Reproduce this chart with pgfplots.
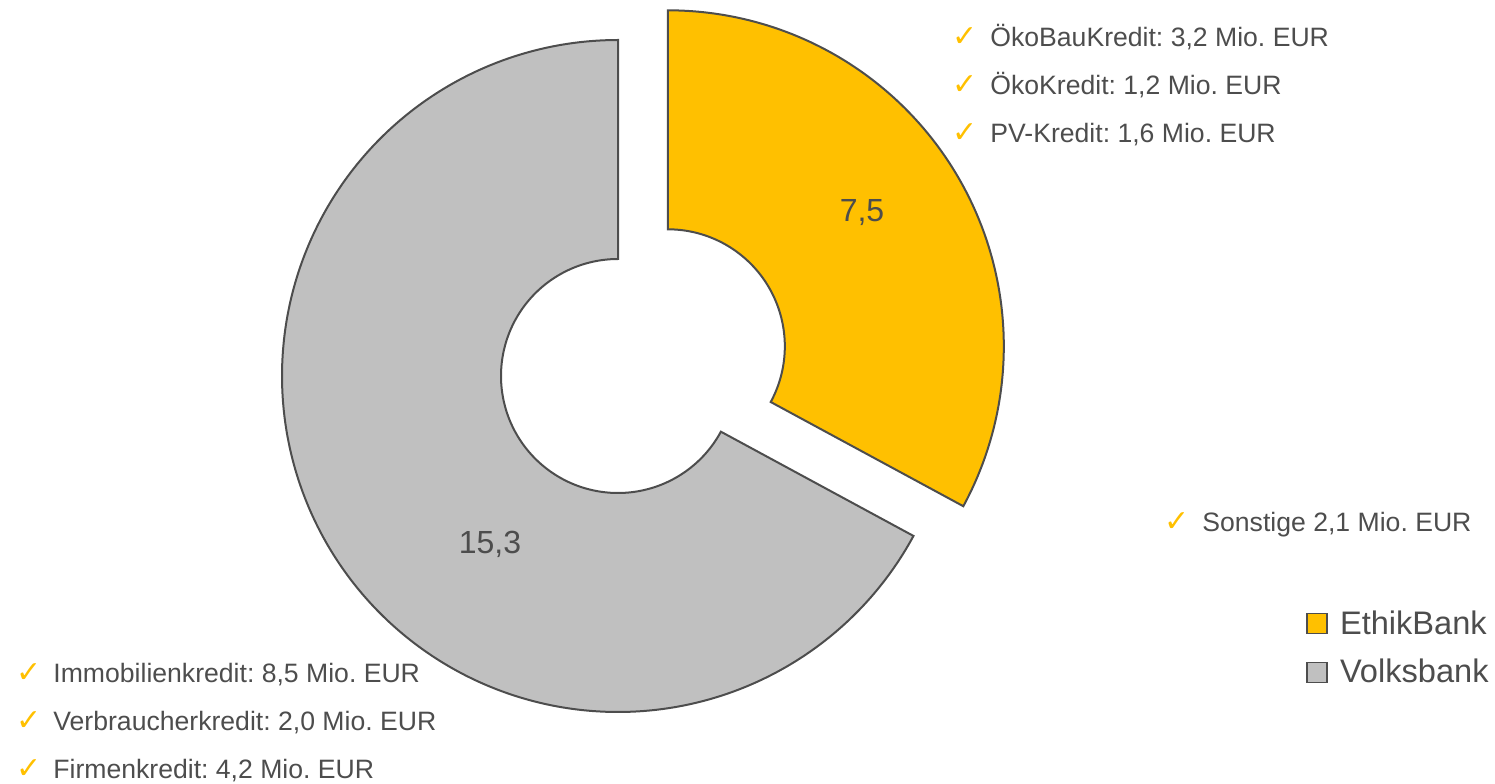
\documentclass[border=0pt]{standalone}
\usepackage{pgfplots}
\pgfplotsset{compat=1.18}
\usepgfplotslibrary{fillbetween}
\usepackage{fontspec}
\setmainfont{Liberation Sans}
\newfontfamily\djv{DejaVu Sans}
\definecolor{ethik}{HTML}{FFC000}
\definecolor{volks}{HTML}{C0C0C0}
\definecolor{edgec}{HTML}{4D4D4D}
\definecolor{txt}{HTML}{4D4D4D}
\newcommand{\chk}{{\djv\fontsize{15}{15}\selectfont\color{ethik}✓}}
\frenchspacing

\begin{document}
\begin{tikzpicture}
\pgfmathsetmacro{\va}{7.5}
\pgfmathsetmacro{\vb}{15.3}
\pgfmathsetmacro{\splitang}{90-360*\va/(\va+\vb)}
\pgfmathsetmacro{\midang}{90-180*\va/(\va+\vb)}
\def\cx{618}\def\cy{376}\def\Ro{336}\def\Ri{117}
\pgfmathsetmacro{\ex}{\cx+58*cos(\midang)}
\pgfmathsetmacro{\ey}{\cy-58*sin(\midang)}
\begin{axis}[
 scale only axis, width=747.5pt, height=391.5pt,
 xmin=0, xmax=1495, ymin=0, ymax=783, y dir=reverse,
 hide axis, clip=false,
 legend style={at={(axis cs:1306,648)}, anchor=west, draw=none, fill=none,
   inner sep=0pt, row sep=7pt, column sep=4pt, font=\fontsize{16.3}{19}\selectfont, text=txt,
   nodes={inner sep=2pt}},
 legend cell align=left,
 sqlegend/.style={legend image code/.code={\draw[##1, line width=0.8pt] (0pt,-5pt) rectangle (10pt,5pt);}},
]
\addplot[name path=yo, draw=none, forget plot, domain=\splitang:90, samples=181, variable=\t]
  ({\ex+\Ro*cos(\t)},{\ey-\Ro*sin(\t)});
\addplot[name path=yi, draw=none, forget plot, domain=\splitang:90, samples=121, variable=\t]
  ({\ex+\Ri*cos(\t)},{\ey-\Ri*sin(\t)});
\addplot[name path=go, draw=none, forget plot, domain=-270:\splitang, samples=361, variable=\t]
  ({\cx+\Ro*cos(\t)},{\cy-\Ro*sin(\t)});
\addplot[name path=gi, draw=none, forget plot, domain=-270:\splitang, samples=241, variable=\t]
  ({\cx+\Ri*cos(\t)},{\cy-\Ri*sin(\t)});
\addplot[fill=ethik, draw=edgec, line width=1pt, sqlegend] fill between[of=yo and yi];
\addlegendentry{EthikBank}
\addplot[fill=volks, draw=edgec, line width=1pt, sqlegend] fill between[of=go and gi];
\addlegendentry{Volksbank}

\node[anchor=base, inner sep=0pt, text=txt, font=\fontsize{16}{19}\selectfont] at (axis cs:862,222) {7,5};
\node[anchor=base, inner sep=0pt, text=txt, font=\fontsize{16}{19}\selectfont] at (axis cs:490,554) {15,3};

\begin{scope}[every node/.style={anchor=base west, inner sep=0pt, text=txt, font=\fontsize{13.3}{16}\selectfont}]
\node at (axis cs:952,47) {\chk}; \node at (axis cs:990,47) {ÖkoBauKredit: 3,2 Mio. EUR};
\node at (axis cs:952,95) {\chk}; \node at (axis cs:990,95) {ÖkoKredit: 1,2 Mio. EUR};
\node at (axis cs:952,143) {\chk}; \node at (axis cs:990,143) {PV-Kredit: 1,6 Mio. EUR};
\node at (axis cs:1164,532) {\chk}; \node at (axis cs:1202,532) {Sonstige 2,1 Mio. EUR};
\node at (axis cs:16,682) {\chk}; \node at (axis cs:53,682) {Immobilienkredit: 8,5 Mio. EUR};
\node at (axis cs:16,730) {\chk}; \node at (axis cs:53,730) {Verbraucherkredit: 2,0 Mio. EUR};
\node at (axis cs:16,778) {\chk}; \node at (axis cs:53,778) {Firmenkredit: 4,2 Mio. EUR};
\end{scope}
\end{axis}
\pgfresetboundingbox
\path (current axis.south west) rectangle (current axis.north east);
\end{tikzpicture}
\end{document}
